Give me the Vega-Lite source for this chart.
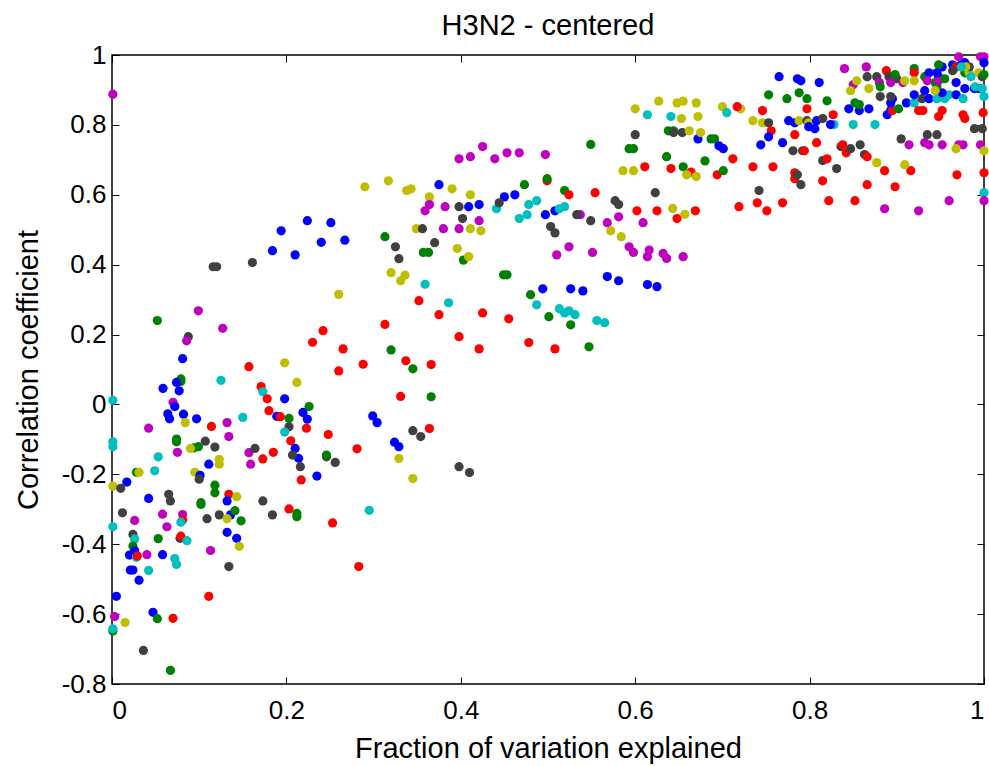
{
"$schema":"https://vega.github.io/schema/vega-lite/v6.json",
"width":872,"height":629,
"autosize":{"type":"none"},
"padding":{"left":112,"top":55,"right":5,"bottom":82},
"background":"white",
"title":{"text":"H3N2 - centered","fontSize":29,"font":"Liberation Sans","fontWeight":"normal","color":"black","offset":1,"anchor":"middle"},
"config":{"view":{"stroke":"black","strokeWidth":1.5},"axis":{"grid":false,"domain":false,"labelFont":"Liberation Sans","titleFont":"Liberation Sans","labelColor":"black","titleColor":"black","tickColor":"black","labelFontSize":26,"titleFontSize":29,"titleFontWeight":"normal"}},
"datasets":{"pts":[
{"x":0.001,"y":0.888,"c":"m"},{"x":0.290,"y":0.623,"c":"y"},{"x":0.317,"y":0.640,"c":"y"},{"x":0.338,"y":0.612,"c":"y"},{"x":0.224,"y":0.526,"c":"b"},{"x":0.251,"y":0.520,"c":"b"},{"x":0.194,"y":0.497,"c":"b"},{"x":0.240,"y":0.464,"c":"b"},{"x":0.267,"y":0.470,"c":"b"},{"x":0.184,"y":0.440,"c":"b"},{"x":0.210,"y":0.428,"c":"b"},{"x":0.313,"y":0.480,"c":"g"},{"x":0.325,"y":0.451,"c":"k"},{"x":0.329,"y":0.417,"c":"k"},{"x":0.116,"y":0.394,"c":"k"},{"x":0.120,"y":0.394,"c":"k"},{"x":0.161,"y":0.406,"c":"k"},{"x":0.320,"y":0.377,"c":"y"},{"x":0.336,"y":0.370,"c":"y"},{"x":0.331,"y":0.354,"c":"y"},{"x":0.260,"y":0.315,"c":"y"},{"x":0.099,"y":0.268,"c":"m"},{"x":0.052,"y":0.240,"c":"g"},{"x":0.127,"y":0.218,"c":"m"},{"x":0.0875,"y":0.194,"c":"k"},{"x":0.0856,"y":0.182,"c":"m"},{"x":0.313,"y":0.229,"c":"r"},{"x":0.242,"y":0.211,"c":"r"},{"x":0.230,"y":0.178,"c":"r"},{"x":0.320,"y":0.156,"c":"g"},{"x":0.265,"y":0.159,"c":"r"},{"x":0.337,"y":0.125,"c":"r"},{"x":0.345,"y":0.102,"c":"g"},{"x":0.081,"y":0.131,"c":"b"},{"x":0.157,"y":0.108,"c":"r"},{"x":0.198,"y":0.119,"c":"y"},{"x":0.288,"y":0.115,"c":"r"},{"x":0.260,"y":0.096,"c":"r"},{"x":0.125,"y":0.069,"c":"c"},{"x":0.212,"y":0.063,"c":"y"},{"x":0.079,"y":0.073,"c":"g"},{"x":0.079,"y":0.066,"c":"g"},{"x":0.074,"y":0.063,"c":"b"},{"x":0.0585,"y":0.046,"c":"b"},{"x":0.077,"y":0.039,"c":"b"},{"x":0.171,"y":0.051,"c":"r"},{"x":0.173,"y":0.036,"c":"c"},{"x":0.178,"y":0.016,"c":"r"},{"x":0.198,"y":0.016,"c":"b"},{"x":0.331,"y":0.023,"c":"r"},{"x":0.001,"y":0.012,"c":"c"},{"x":0.070,"y":0.006,"c":"m"},{"x":0.072,"y":-0.006,"c":"b"},{"x":0.226,"y":-0.006,"c":"g"},{"x":0.180,"y":-0.018,"c":"r"},{"x":0.064,"y":-0.027,"c":"b"},{"x":0.066,"y":-0.041,"c":"b"},{"x":0.082,"y":-0.028,"c":"b"},{"x":0.097,"y":-0.041,"c":"b"},{"x":0.219,"y":-0.023,"c":"b"},{"x":0.224,"y":-0.042,"c":"b"},{"x":0.189,"y":-0.034,"c":"b"},{"x":0.193,"y":-0.035,"c":"r"},{"x":0.203,"y":-0.040,"c":"g"},{"x":0.203,"y":-0.064,"c":"k"},{"x":0.198,"y":-0.079,"c":"c"},{"x":0.223,"y":-0.068,"c":"r"},{"x":0.150,"y":-0.037,"c":"c"},{"x":0.132,"y":-0.052,"c":"m"},{"x":0.134,"y":-0.092,"c":"m"},{"x":0.114,"y":-0.063,"c":"r"},{"x":0.084,"y":-0.052,"c":"y"},{"x":0.042,"y":-0.068,"c":"m"},{"x":0.299,"y":-0.033,"c":"b"},{"x":0.304,"y":-0.052,"c":"b"},{"x":0.248,"y":-0.086,"c":"r"},{"x":0.345,"y":-0.075,"c":"k"},{"x":0.074,"y":-0.099,"c":"g"},{"x":0.074,"y":-0.107,"c":"g"},{"x":0.107,"y":-0.105,"c":"k"},{"x":0.118,"y":-0.122,"c":"k"},{"x":0.001,"y":-0.107,"c":"c"},{"x":0.001,"y":-0.121,"c":"c"},{"x":0.205,"y":-0.104,"c":"r"},{"x":0.210,"y":-0.126,"c":"b"},{"x":0.214,"y":-0.154,"c":"b"},{"x":0.207,"y":-0.145,"c":"k"},{"x":0.216,"y":-0.178,"c":"k"},{"x":0.099,"y":-0.121,"c":"g"},{"x":0.094,"y":-0.124,"c":"g"},{"x":0.090,"y":-0.126,"c":"y"},{"x":0.075,"y":-0.137,"c":"m"},{"x":0.053,"y":-0.150,"c":"c"},{"x":0.049,"y":-0.190,"c":"c"},{"x":0.028,"y":-0.194,"c":"g"},{"x":0.031,"y":-0.194,"c":"y"},{"x":0.017,"y":-0.222,"c":"b"},{"x":0.111,"y":-0.171,"c":"b"},{"x":0.123,"y":-0.157,"c":"y"},{"x":0.123,"y":-0.171,"c":"y"},{"x":0.095,"y":-0.194,"c":"y"},{"x":0.101,"y":-0.203,"c":"b"},{"x":0.100,"y":-0.214,"c":"k"},{"x":0.157,"y":-0.138,"c":"m"},{"x":0.159,"y":-0.171,"c":"m"},{"x":0.164,"y":-0.126,"c":"k"},{"x":0.173,"y":-0.156,"c":"r"},{"x":0.185,"y":-0.137,"c":"r"},{"x":0.246,"y":-0.150,"c":"k"},{"x":0.246,"y":-0.145,"c":"g"},{"x":0.256,"y":-0.166,"c":"k"},{"x":0.281,"y":-0.127,"c":"r"},{"x":0.324,"y":-0.108,"c":"b"},{"x":0.329,"y":-0.121,"c":"b"},{"x":0.329,"y":-0.155,"c":"y"},{"x":0.217,"y":-0.216,"c":"r"},{"x":0.235,"y":-0.205,"c":"b"},{"x":0.345,"y":-0.212,"c":"y"},
{"x":0.001,"y":-0.234,"c":"y"},{"x":0.010,"y":-0.240,"c":"k"},{"x":0.042,"y":-0.269,"c":"b"},{"x":0.065,"y":-0.257,"c":"k"},{"x":0.067,"y":-0.276,"c":"k"},{"x":0.118,"y":-0.231,"c":"g"},{"x":0.118,"y":-0.253,"c":"g"},{"x":0.134,"y":-0.257,"c":"r"},{"x":0.143,"y":-0.264,"c":"y"},{"x":0.132,"y":-0.276,"c":"b"},{"x":0.102,"y":-0.281,"c":"g"},{"x":0.102,"y":-0.286,"c":"g"},{"x":0.173,"y":-0.276,"c":"k"},{"x":0.184,"y":-0.316,"c":"k"},{"x":0.203,"y":-0.299,"c":"r"},{"x":0.212,"y":-0.312,"c":"g"},{"x":0.212,"y":-0.321,"c":"g"},{"x":0.253,"y":-0.339,"c":"r"},{"x":0.295,"y":-0.303,"c":"c"},{"x":0.012,"y":-0.310,"c":"k"},{"x":0.026,"y":-0.332,"c":"m"},{"x":0.058,"y":-0.314,"c":"m"},{"x":0.063,"y":-0.350,"c":"m"},{"x":0.081,"y":-0.315,"c":"m"},{"x":0.081,"y":-0.331,"c":"r"},{"x":0.079,"y":-0.337,"c":"c"},{"x":0.109,"y":-0.327,"c":"k"},{"x":0.123,"y":-0.316,"c":"k"},{"x":0.136,"y":-0.316,"c":"b"},{"x":0.132,"y":-0.327,"c":"y"},{"x":0.141,"y":-0.304,"c":"g"},{"x":0.148,"y":-0.333,"c":"g"},{"x":0.001,"y":-0.350,"c":"c"},{"x":0.024,"y":-0.372,"c":"k"},{"x":0.026,"y":-0.385,"c":"c"},{"x":0.024,"y":-0.405,"c":"g"},{"x":0.020,"y":-0.431,"c":"b"},{"x":0.026,"y":-0.419,"c":"b"},{"x":0.028,"y":-0.437,"c":"c"},{"x":0.029,"y":-0.434,"c":"r"},{"x":0.040,"y":-0.430,"c":"m"},{"x":0.053,"y":-0.384,"c":"g"},{"x":0.058,"y":-0.430,"c":"b"},{"x":0.078,"y":-0.383,"c":"k"},{"x":0.079,"y":-0.377,"c":"r"},{"x":0.086,"y":-0.390,"c":"c"},{"x":0.072,"y":-0.441,"c":"c"},{"x":0.074,"y":-0.458,"c":"c"},{"x":0.113,"y":-0.418,"c":"m"},{"x":0.132,"y":-0.366,"c":"b"},{"x":0.143,"y":-0.383,"c":"b"},{"x":0.146,"y":-0.406,"c":"y"},{"x":0.134,"y":-0.464,"c":"k"},{"x":0.021,"y":-0.474,"c":"b"},{"x":0.024,"y":-0.474,"c":"b"},{"x":0.042,"y":-0.475,"c":"c"},{"x":0.031,"y":-0.503,"c":"b"},{"x":0.111,"y":-0.549,"c":"r"},{"x":0.283,"y":-0.464,"c":"r"},{"x":0.005,"y":-0.549,"c":"b"},{"x":0.047,"y":-0.595,"c":"b"},{"x":0.052,"y":-0.613,"c":"g"},{"x":0.070,"y":-0.612,"c":"r"},{"x":0.003,"y":-0.607,"c":"m"},{"x":0.015,"y":-0.624,"c":"y"},{"x":0.001,"y":-0.648,"c":"g"},{"x":0.001,"y":-0.642,"c":"c"},{"x":0.036,"y":-0.704,"c":"k"},{"x":0.067,"y":-0.761,"c":"g"},
{"x":0.398,"y":-0.178,"c":"k"},{"x":0.410,"y":-0.195,"c":"k"},{"x":0.403,"y":0.413,"c":"g"},{"x":0.409,"y":0.423,"c":"y"},{"x":0.453,"y":0.371,"c":"g"},{"x":0.449,"y":0.371,"c":"g"},{"x":0.359,"y":0.344,"c":"c"},{"x":0.352,"y":0.297,"c":"r"},{"x":0.386,"y":0.291,"c":"c"},{"x":0.375,"y":0.257,"c":"r"},{"x":0.425,"y":0.262,"c":"r"},{"x":0.455,"y":0.245,"c":"r"},{"x":0.398,"y":0.194,"c":"r"},{"x":0.421,"y":0.159,"c":"r"},{"x":0.478,"y":0.177,"c":"r"},{"x":0.508,"y":0.159,"c":"r"},{"x":0.547,"y":0.165,"c":"g"},{"x":0.494,"y":0.331,"c":"b"},{"x":0.526,"y":0.331,"c":"b"},{"x":0.540,"y":0.325,"c":"b"},{"x":0.568,"y":0.366,"c":"b"},{"x":0.581,"y":0.354,"c":"b"},{"x":0.614,"y":0.343,"c":"b"},{"x":0.625,"y":0.337,"c":"b"},{"x":0.480,"y":0.314,"c":"g"},{"x":0.487,"y":0.285,"c":"c"},{"x":0.501,"y":0.251,"c":"g"},{"x":0.513,"y":0.274,"c":"c"},{"x":0.519,"y":0.262,"c":"c"},{"x":0.524,"y":0.268,"c":"c"},{"x":0.531,"y":0.257,"c":"c"},{"x":0.526,"y":0.228,"c":"g"},{"x":0.556,"y":0.240,"c":"c"},{"x":0.565,"y":0.234,"c":"c"},{"x":0.366,"y":0.114,"c":"r"},{"x":0.366,"y":0.022,"c":"g"},{"x":0.354,"y":-0.092,"c":"k"},{"x":0.364,"y":-0.069,"c":"r"},
{"x":0.600,"y":0.846,"c":"y"},{"x":0.627,"y":0.868,"c":"y"},{"x":0.648,"y":0.863,"c":"y"},{"x":0.655,"y":0.868,"c":"y"},{"x":0.670,"y":0.863,"c":"y"},{"x":0.614,"y":0.829,"c":"c"},{"x":0.641,"y":0.824,"c":"c"},{"x":0.653,"y":0.818,"c":"y"},{"x":0.672,"y":0.824,"c":"y"},{"x":0.600,"y":0.772,"c":"k"},{"x":0.638,"y":0.783,"c":"g"},{"x":0.644,"y":0.783,"c":"g"},{"x":0.644,"y":0.778,"c":"k"},{"x":0.654,"y":0.778,"c":"k"},{"x":0.662,"y":0.783,"c":"y"},{"x":0.672,"y":0.760,"c":"b"},{"x":0.549,"y":0.744,"c":"g"},{"x":0.593,"y":0.732,"c":"g"},{"x":0.598,"y":0.732,"c":"g"},{"x":0.636,"y":0.709,"c":"g"},{"x":0.611,"y":0.680,"c":"r"},{"x":0.641,"y":0.675,"c":"r"},{"x":0.655,"y":0.680,"c":"g"},{"x":0.664,"y":0.665,"c":"r"},{"x":0.659,"y":0.657,"c":"y"},{"x":0.670,"y":0.652,"c":"y"},{"x":0.586,"y":0.669,"c":"y"},{"x":0.598,"y":0.669,"c":"y"},{"x":0.623,"y":0.606,"c":"k"},{"x":0.554,"y":0.606,"c":"r"},{"x":0.602,"y":0.554,"c":"r"},{"x":0.625,"y":0.554,"c":"r"},{"x":0.648,"y":0.532,"c":"r"},{"x":0.669,"y":0.554,"c":"r"},{"x":0.643,"y":0.561,"c":"y"},{"x":0.657,"y":0.544,"c":"y"},{"x":0.609,"y":0.520,"c":"m"},{"x":0.581,"y":0.537,"c":"m"},{"x":0.568,"y":0.520,"c":"m"},{"x":0.577,"y":0.583,"c":"k"},{"x":0.581,"y":0.572,"c":"k"},{"x":0.572,"y":0.497,"c":"y"},{"x":0.584,"y":0.480,"c":"y"},{"x":0.593,"y":0.451,"c":"m"},{"x":0.598,"y":0.435,"c":"m"},{"x":0.614,"y":0.423,"c":"m"},{"x":0.616,"y":0.442,"c":"m"},{"x":0.632,"y":0.432,"c":"m"},{"x":0.636,"y":0.418,"c":"m"},{"x":0.655,"y":0.423,"c":"m"},{"x":0.551,"y":0.435,"c":"m"},{"x":0.524,"y":0.451,"c":"m"},{"x":0.510,"y":0.428,"c":"m"},{"x":0.549,"y":0.526,"c":"k"},{"x":0.537,"y":0.543,"c":"m"},{"x":0.533,"y":0.543,"c":"k"},{"x":0.497,"y":0.543,"c":"b"},{"x":0.508,"y":0.554,"c":"b"},{"x":0.513,"y":0.560,"c":"c"},{"x":0.519,"y":0.566,"c":"c"},{"x":0.476,"y":0.543,"c":"c"},{"x":0.467,"y":0.532,"c":"c"},{"x":0.478,"y":0.572,"c":"c"},{"x":0.487,"y":0.583,"c":"c"},{"x":0.503,"y":0.509,"c":"k"},{"x":0.508,"y":0.491,"c":"k"},{"x":0.473,"y":0.629,"c":"g"},{"x":0.499,"y":0.640,"c":"r"},{"x":0.499,"y":0.646,"c":"g"},{"x":0.519,"y":0.612,"c":"g"},{"x":0.524,"y":0.600,"c":"r"},{"x":0.450,"y":0.594,"c":"b"},{"x":0.462,"y":0.600,"c":"b"},{"x":0.441,"y":0.560,"c":"c"},{"x":0.444,"y":0.577,"c":"k"},{"x":0.375,"y":0.629,"c":"b"},{"x":0.390,"y":0.617,"c":"y"},{"x":0.343,"y":0.617,"c":"y"},{"x":0.364,"y":0.594,"c":"y"},{"x":0.411,"y":0.600,"c":"y"},{"x":0.364,"y":0.572,"c":"m"},{"x":0.359,"y":0.554,"c":"m"},{"x":0.382,"y":0.566,"c":"m"},{"x":0.398,"y":0.566,"c":"k"},{"x":0.409,"y":0.566,"c":"b"},{"x":0.421,"y":0.572,"c":"b"},{"x":0.402,"y":0.532,"c":"k"},{"x":0.421,"y":0.526,"c":"m"},{"x":0.380,"y":0.503,"c":"m"},{"x":0.398,"y":0.503,"c":"m"},{"x":0.411,"y":0.503,"c":"y"},{"x":0.423,"y":0.497,"c":"y"},{"x":0.349,"y":0.503,"c":"y"},{"x":0.356,"y":0.503,"c":"k"},{"x":0.370,"y":0.463,"c":"k"},{"x":0.396,"y":0.446,"c":"y"},{"x":0.357,"y":0.435,"c":"g"},{"x":0.363,"y":0.435,"c":"g"},{"x":0.398,"y":0.703,"c":"m"},{"x":0.411,"y":0.709,"c":"m"},{"x":0.425,"y":0.738,"c":"m"},{"x":0.439,"y":0.703,"c":"m"},{"x":0.453,"y":0.720,"c":"m"},{"x":0.467,"y":0.720,"c":"m"},{"x":0.497,"y":0.715,"c":"m"},
{"x":0.675,"y":0.778,"c":"y"},{"x":0.687,"y":0.760,"c":"g"},{"x":0.691,"y":0.760,"c":"g"},{"x":0.696,"y":0.740,"c":"b"},{"x":0.701,"y":0.732,"c":"b"},{"x":0.680,"y":0.697,"c":"g"},{"x":0.712,"y":0.703,"c":"r"},{"x":0.694,"y":0.657,"c":"r"},{"x":0.701,"y":0.669,"c":"g"},{"x":0.700,"y":0.852,"c":"y"},{"x":0.721,"y":0.846,"c":"y"},{"x":0.705,"y":0.835,"c":"c"},{"x":0.717,"y":0.852,"c":"r"},{"x":0.753,"y":0.886,"c":"g"},{"x":0.765,"y":0.938,"c":"b"},{"x":0.786,"y":0.932,"c":"b"},{"x":0.790,"y":0.926,"c":"b"},{"x":0.811,"y":0.921,"c":"b"},{"x":0.774,"y":0.875,"c":"g"},{"x":0.788,"y":0.892,"c":"g"},{"x":0.797,"y":0.875,"c":"g"},{"x":0.820,"y":0.869,"c":"g"},{"x":0.746,"y":0.841,"c":"r"},{"x":0.797,"y":0.846,"c":"r"},{"x":0.827,"y":0.829,"c":"r"},{"x":0.735,"y":0.812,"c":"y"},{"x":0.746,"y":0.806,"c":"y"},{"x":0.753,"y":0.806,"c":"k"},{"x":0.756,"y":0.783,"c":"r"},{"x":0.753,"y":0.766,"c":"b"},{"x":0.744,"y":0.743,"c":"b"},{"x":0.769,"y":0.749,"c":"b"},{"x":0.783,"y":0.772,"c":"r"},{"x":0.776,"y":0.812,"c":"b"},{"x":0.783,"y":0.806,"c":"b"},{"x":0.788,"y":0.812,"c":"y"},{"x":0.797,"y":0.812,"c":"k"},{"x":0.799,"y":0.806,"c":"y"},{"x":0.799,"y":0.795,"c":"b"},{"x":0.806,"y":0.789,"c":"b"},{"x":0.808,"y":0.812,"c":"b"},{"x":0.815,"y":0.818,"c":"k"},{"x":0.828,"y":0.801,"c":"c"},{"x":0.824,"y":0.801,"c":"b"},{"x":0.808,"y":0.749,"c":"r"},{"x":0.781,"y":0.726,"c":"k"},{"x":0.792,"y":0.726,"c":"k"},{"x":0.794,"y":0.726,"c":"r"},{"x":0.815,"y":0.698,"c":"k"},{"x":0.820,"y":0.703,"c":"r"},{"x":0.831,"y":0.675,"c":"k"},{"x":0.815,"y":0.640,"c":"r"},{"x":0.783,"y":0.663,"c":"r"},{"x":0.783,"y":0.646,"c":"r"},{"x":0.786,"y":0.657,"c":"k"},{"x":0.790,"y":0.629,"c":"k"},{"x":0.742,"y":0.612,"c":"k"},{"x":0.735,"y":0.680,"c":"r"},{"x":0.758,"y":0.680,"c":"r"},{"x":0.719,"y":0.566,"c":"r"},{"x":0.740,"y":0.577,"c":"r"},{"x":0.751,"y":0.554,"c":"r"},{"x":0.769,"y":0.577,"c":"r"},{"x":0.822,"y":0.583,"c":"r"},{"x":0.852,"y":0.583,"c":"r"},{"x":0.866,"y":0.629,"c":"r"},{"x":0.898,"y":0.623,"c":"r"},{"x":0.886,"y":0.669,"c":"r"},{"x":0.916,"y":0.669,"c":"r"},{"x":0.969,"y":0.657,"c":"r"},{"x":1.0,"y":0.663,"c":"r"},{"x":0.999,"y":0.835,"c":"r"},{"x":0.886,"y":0.560,"c":"m"},{"x":0.925,"y":0.554,"c":"m"},{"x":0.960,"y":0.583,"c":"m"},{"x":1.0,"y":0.606,"c":"c"},{"x":1.0,"y":0.583,"c":"m"},{"x":0.905,"y":0.760,"c":"k"},{"x":0.935,"y":0.772,"c":"k"},{"x":0.946,"y":0.772,"c":"k"},{"x":0.914,"y":0.743,"c":"m"},{"x":0.932,"y":0.749,"c":"m"},{"x":0.937,"y":0.743,"c":"m"},{"x":0.952,"y":0.743,"c":"m"},{"x":0.971,"y":0.743,"c":"m"},{"x":0.976,"y":0.743,"c":"m"},{"x":0.968,"y":0.732,"c":"y"},{"x":0.996,"y":0.743,"c":"m"},{"x":1.0,"y":0.726,"c":"y"},{"x":0.989,"y":0.789,"c":"k"},{"x":0.998,"y":0.789,"c":"k"},{"x":0.836,"y":0.738,"c":"k"},{"x":0.838,"y":0.743,"c":"r"},{"x":0.842,"y":0.720,"c":"r"},{"x":0.847,"y":0.732,"c":"k"},{"x":0.858,"y":0.743,"c":"k"},{"x":0.863,"y":0.715,"c":"k"},{"x":0.866,"y":0.709,"c":"r"},{"x":0.877,"y":0.692,"c":"y"},{"x":0.909,"y":0.686,"c":"y"},{"x":0.845,"y":0.846,"c":"b"},{"x":0.857,"y":0.841,"c":"b"},{"x":0.868,"y":0.846,"c":"b"},{"x":0.852,"y":0.863,"c":"g"},{"x":0.857,"y":0.858,"c":"g"},{"x":0.850,"y":0.801,"c":"c"},{"x":0.875,"y":0.801,"c":"c"},{"x":0.889,"y":0.829,"c":"b"},{"x":0.893,"y":0.841,"c":"b"},{"x":0.895,"y":0.841,"c":"r"},{"x":0.902,"y":0.846,"c":"g"},{"x":0.893,"y":0.863,"c":"b"},{"x":0.895,"y":0.875,"c":"b"},{"x":0.881,"y":0.881,"c":"k"},{"x":0.893,"y":0.881,"c":"k"},{"x":0.911,"y":0.863,"c":"b"},{"x":0.920,"y":0.863,"c":"c"},{"x":0.920,"y":0.886,"c":"b"},{"x":0.929,"y":0.875,"c":"k"},{"x":0.932,"y":0.898,"c":"b"},{"x":0.937,"y":0.875,"c":"b"},{"x":0.946,"y":0.875,"c":"c"},{"x":0.955,"y":0.875,"c":"c"},{"x":0.960,"y":0.886,"c":"c"},{"x":0.952,"y":0.892,"c":"b"},{"x":0.925,"y":0.841,"c":"r"},{"x":0.930,"y":0.841,"c":"r"},{"x":0.948,"y":0.824,"c":"r"},{"x":0.952,"y":0.841,"c":"r"},{"x":0.976,"y":0.829,"c":"r"},{"x":0.978,"y":0.818,"c":"r"},{"x":0.968,"y":0.886,"c":"b"},{"x":0.976,"y":0.875,"c":"c"},{"x":0.978,"y":0.904,"c":"b"},{"x":0.989,"y":0.904,"c":"b"},{"x":0.994,"y":0.904,"c":"b"},{"x":0.990,"y":0.909,"c":"c"},{"x":0.998,"y":0.904,"c":"c"},{"x":1.0,"y":0.881,"c":"c"},{"x":0.968,"y":0.921,"c":"b"},{"x":0.944,"y":0.921,"c":"g"},{"x":0.946,"y":0.909,"c":"g"},{"x":0.948,"y":0.938,"c":"b"},{"x":0.948,"y":0.926,"c":"m"},{"x":0.955,"y":0.932,"c":"g"},{"x":0.952,"y":0.966,"c":"b"},{"x":0.948,"y":0.972,"c":"g"},{"x":0.920,"y":0.961,"c":"g"},{"x":0.920,"y":0.949,"c":"r"},{"x":0.932,"y":0.938,"c":"g"},{"x":0.937,"y":0.949,"c":"b"},{"x":0.946,"y":0.949,"c":"b"},{"x":0.964,"y":0.972,"c":"b"},{"x":0.968,"y":0.966,"c":"r"},{"x":0.974,"y":0.972,"c":"b"},{"x":0.978,"y":0.978,"c":"b"},{"x":0.971,"y":0.995,"c":"m"},{"x":0.964,"y":0.955,"c":"k"},{"x":0.978,"y":0.949,"c":"g"},{"x":0.983,"y":0.949,"c":"y"},{"x":0.994,"y":0.949,"c":"y"},{"x":0.985,"y":0.938,"c":"c"},{"x":0.996,"y":0.995,"c":"m"},{"x":1.0,"y":0.995,"c":"m"},{"x":1.0,"y":0.978,"c":"b"},{"x":0.998,"y":0.938,"c":"k"},{"x":1.0,"y":0.944,"c":"g"},{"x":0.840,"y":0.961,"c":"m"},{"x":0.865,"y":0.966,"c":"m"},{"x":0.850,"y":0.915,"c":"m"},{"x":0.854,"y":0.926,"c":"y"},{"x":0.847,"y":0.898,"c":"y"},{"x":0.868,"y":0.904,"c":"y"},{"x":0.866,"y":0.938,"c":"k"},{"x":0.877,"y":0.938,"c":"k"},{"x":0.880,"y":0.921,"c":"m"},{"x":0.881,"y":0.909,"c":"g"},{"x":0.888,"y":0.955,"c":"r"},{"x":0.891,"y":0.938,"c":"k"},{"x":0.900,"y":0.932,"c":"k"},{"x":0.898,"y":0.944,"c":"g"},{"x":0.893,"y":0.921,"c":"m"},{"x":0.907,"y":0.921,"c":"m"},{"x":0.909,"y":0.926,"c":"y"},{"x":0.920,"y":0.926,"c":"y"},{"x":0.935,"y":0.926,"c":"m"},{"x":0.944,"y":0.898,"c":"y"},{"x":0.983,"y":0.966,"c":"k"},{"x":0.979,"y":0.966,"c":"y"},{"x":0.974,"y":0.966,"c":"c"}
]},
"layer":[
{"data":{"name":"pts"},"mark":{"type":"point","filled":true,"opacity":1,"size":85,"shape":"circle"},
"encoding":{
"x":{"field":"x","type":"quantitative","scale":{"domain":[0,1],"nice":false,"zero":false},"axis":{"orient":"bottom","values":[0,0.2,0.4,0.6,0.8,1],"format":".1~f","tickSize":-7,"labelPadding":20,"title":"Fraction of variation explained","titlePadding":11}},
"y":{"field":"y","type":"quantitative","scale":{"domain":[-0.8,1],"nice":false,"zero":false},"axis":{"orient":"left","values":[-0.8,-0.6,-0.4,-0.2,0,0.2,0.4,0.6,0.8,1],"labelExpr":"(datum.value < 0 ? '-' : '') + format(abs(datum.value), '.1~f')","tickSize":-7,"labelPadding":13,"title":"Correlation coefficient","titlePadding":18}},
"color":{"field":"c","type":"nominal","scale":{"domain":["b","g","r","c","m","y","k"],"range":["#0000FF","#008000","#FF0000","#00BFBF","#BF00BF","#BFBF00","#404040"]},"legend":null}}},
{"data":{"name":"pts"},"mark":{"type":"point","opacity":0},
"encoding":{
"x":{"field":"x","type":"quantitative","axis":{"orient":"top","values":[0,0.2,0.4,0.6,0.8,1],"labels":false,"tickSize":-7,"title":null}},
"y":{"field":"y","type":"quantitative","axis":{"orient":"right","values":[-0.8,-0.6,-0.4,-0.2,0,0.2,0.4,0.6,0.8,1],"labels":false,"tickSize":-7,"title":null}}}}
],
"resolve":{"axis":{"x":"independent","y":"independent"}}
}
